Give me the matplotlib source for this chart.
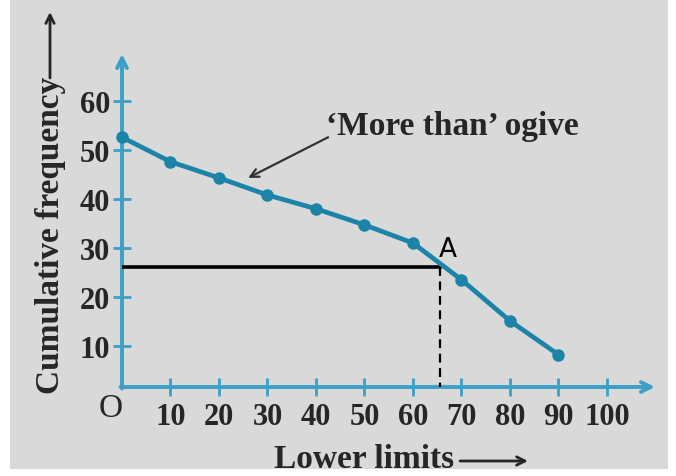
import matplotlib
matplotlib.use('Agg')
import matplotlib.pyplot as plt
from matplotlib.patches import Rectangle

# 'More than' ogive data (lower limits vs cumulative frequency)
lower_limits = [0, 10, 20, 30, 40, 50, 60, 70, 80, 90]
cum_freq = [52.6, 47.6, 44.3, 40.8, 38.0, 34.7, 31.0, 23.5, 15.1, 8.2]

x_ticks = [10, 20, 30, 40, 50, 60, 70, 80, 90, 100]
y_ticks = [10, 20, 30, 40, 50, 60]

# median construction (point A)
half_n = 26.2
median_x = 65.6

axis_color = '#3b9fc6'
curve_color = '#1c84a8'
text_color = '#262626'
serif = ['Liberation Serif', 'DejaVu Serif']

fig = plt.figure(figsize=(6.76, 4.77), dpi=100)
fig.patch.set_facecolor('white')
# grey scanned-page background
bg = Rectangle((10 / 676, 7 / 477), 658 / 676, 470 / 477,
               transform=fig.transFigure, facecolor='#d9d9d9',
               edgecolor='none', zorder=-5)
fig.add_artist(bg)

ax = fig.add_axes([122 / 676, 89 / 477, 533 / 676, 333 / 477])
ax.set_zorder(2)
ax.set_facecolor('none')
x0, x1 = 0, 109.9
y0, y1 = 1.6, 69.6
ax.set_xlim(x0, x1)
ax.set_ylim(y0, y1)
for s in ax.spines.values():
    s.set_visible(False)

# axes with open arrow heads
arrow_kw = dict(arrowstyle='->,head_length=0.7,head_width=0.35', lw=2.8,
                color=axis_color, shrinkA=0, shrinkB=0)
ax.annotate('', xy=(x1, y0), xytext=(x0 - 0.3, y0), arrowprops=arrow_kw,
            annotation_clip=False)
ax.annotate('', xy=(x0, y1), xytext=(x0, y0 - 0.3), arrowprops=arrow_kw,
            annotation_clip=False)

ax.set_xticks(x_ticks)
ax.set_yticks(y_ticks)
ax.tick_params(direction='inout', length=13, width=2, color=axis_color,
               labelcolor=text_color)
ax.tick_params(axis='x', pad=4)
ax.tick_params(axis='y', pad=2)
for lab in ax.get_xticklabels() + ax.get_yticklabels():
    lab.set_fontfamily(serif)
    lab.set_fontweight('bold')
    lab.set_fontsize(22)

ax.text(-2.4, -2.6, 'O', fontfamily=serif, fontsize=24, color=text_color,
        ha='center', va='center')

# ogive curve
ax.plot(lower_limits, cum_freq, color=curve_color, lw=3.4, marker='o',
        markersize=8, zorder=4, clip_on=False)

# median lines
ax.plot([x0, median_x], [half_n, half_n], color='black', lw=2.6, zorder=3)
ax.plot([median_x, median_x], [half_n, y0], color='black', lw=1.6,
        ls=(0, (4, 2.5)), zorder=3)
ax.text(65.4, 28.4, 'A', fontfamily='DejaVu Sans', fontsize=19,
        color='black', ha='left', va='baseline')

# label for the curve
ax.text(42.1, 53.3, '\u2018More than\u2019 ogive', fontfamily=serif,
        fontweight='bold', fontsize=24, color=text_color, ha='left',
        va='baseline')
ax.annotate('', xy=(26.0, 44.3), xytext=(42.5, 52.6),
            arrowprops=dict(arrowstyle='->,head_length=0.6,head_width=0.3',
                            lw=1.6, color='#333333', shrinkA=0, shrinkB=0))

# axis titles with long arrows
fig.text(50 / 676, 242 / 477, 'Cumulative frequency', rotation=90,
         fontfamily=serif, fontweight='bold', fontsize=24, color=text_color,
         ha='center', va='center')
fig.text(364 / 676, 17 / 477, 'Lower limits', fontfamily=serif,
         fontweight='bold', fontsize=24, color=text_color, ha='center',
         va='center')
label_arrow = dict(arrowstyle='->,head_length=0.6,head_width=0.3', lw=2,
                   color=text_color, shrinkA=0, shrinkB=0)
fig.add_artist(plt.Annotation('', xy=(50, 464), xytext=(50, 398),
                              xycoords='figure pixels',
                              arrowprops=label_arrow))
fig.add_artist(plt.Annotation('', xy=(528, 15), xytext=(460, 15),
                              xycoords='figure pixels',
                              arrowprops=label_arrow))

fig.savefig('out.png', dpi=100)
